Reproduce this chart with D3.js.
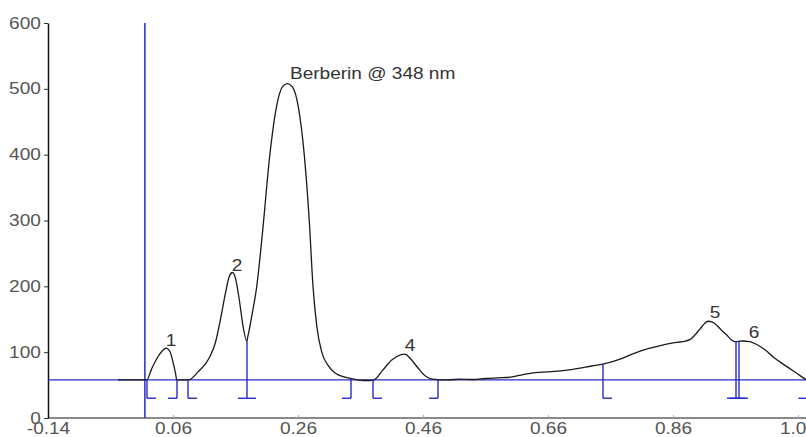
<!DOCTYPE html>
<html>
<head>
<meta charset="utf-8">
<script src="https://cdn.jsdelivr.net/npm/d3@7"></script>
<style>
  body { margin: 0; background: #fff; }
  svg { display: block; font-family: "Liberation Sans", Arial, sans-serif; }
</style>
</head>
<body>
<svg id="chart" width="806" height="437"></svg>
<script>
// Densitogram trace (Rf, AU)
const traceRf = [-0.028, 0.0, 0.018, 0.026, 0.034, 0.042, 0.049, 0.055, 0.060, 0.064, 0.066,
  0.085, 0.100, 0.119, 0.128, 0.136, 0.144, 0.150, 0.155, 0.160, 0.166, 0.172, 0.178,
  0.180, 0.187, 0.194, 0.203, 0.215, 0.225, 0.235, 0.243, 0.251, 0.261, 0.270, 0.278, 0.284,
  0.290, 0.298, 0.308, 0.320, 0.335, 0.350, 0.365, 0.375,
  0.382, 0.395, 0.410, 0.424, 0.431, 0.440, 0.452, 0.465, 0.475, 0.490,
  0.500, 0.520, 0.540, 0.560, 0.580, 0.600, 0.620, 0.640, 0.660, 0.700, 0.730, 0.748,
  0.780, 0.800, 0.823, 0.840, 0.860, 0.875, 0.887, 0.895, 0.903, 0.910, 0.916, 0.922,
  0.930, 0.938, 0.946, 0.953, 0.959, 0.970, 0.983, 0.993, 1.002, 1.012, 1.020, 1.030,
  1.042, 1.058, 1.074, 1.090];
const traceAU = [58, 58, 58, 75, 90, 101, 106, 101, 85, 68, 58,
  58, 70, 93, 115, 150, 190, 215, 221, 212, 180, 140, 117,
  125, 160, 200, 280, 400, 470, 503, 508, 503, 470, 400, 300, 200,
  140, 100, 80, 68, 62, 59, 57, 57,
  58, 72, 88, 96, 97, 90, 76, 63, 59, 58,
  58, 59, 58.5, 60, 61, 62, 66, 69, 70, 74, 79, 82,
  91, 99, 106, 110, 114, 116, 119, 126, 135, 143, 147, 146,
  141, 133, 126, 119, 116, 117, 116, 112, 107, 100, 93, 86,
  78, 68, 58, 55];

// Integration markers (peak start / end) and tick direction
const markerRf = [0.0184, 0.0664, 0.084, 0.1784, 0.3448, 0.380, 0.484, 0.748, 0.9608, 0.9656, 1.075];
const markerSide = ['r', 'l', 'r', 'b', 'l', 'r', 'l', 'r', 'b', 'b', 'b'];

// Peak labels
const labelText = ['1', '2', 'Berberin @ 348 nm', '4', '5', '6'];
const labelRf = [0.0568, 0.1624, 0.2472, 0.4392, 0.9272, 0.9896];
const labelAU = [109, 223, 515, 102, 152, 121.5];

const xTicks = [-0.14, 0.06, 0.26, 0.46, 0.66, 0.86, 1.06];
const yTicks = [0, 100, 200, 300, 400, 500, 600];
const baselineAU = 58;
const frontRf = 0.015;
const markerFootAU = 30;

const svg = d3.select('#chart');
const blue = '#2a2ac8';
const stretch = 'scale(1.19,1)';

const x = d3.scaleLinear().domain([-0.14, 1.06]).range([48, 798]);
const y = d3.scaleLinear().domain([0, 600]).range([418, 23]);

const trace = traceRf.map((r, i) => ({ rf: r, au: traceAU[i] }));

function valueAt(rf) {
  const i = d3.bisector((d) => d.rf).left(trace, rf);
  if (i <= 0) return trace[0].au;
  if (i >= trace.length) return trace[trace.length - 1].au;
  const a = trace[i - 1], b = trace[i];
  return a.au + (b.au - a.au) * (rf - a.rf) / (b.rf - a.rf);
}

// Axes
const xAxis = svg.append('g')
  .attr('transform', `translate(0,${y(0)})`)
  .call(d3.axisBottom(x).tickValues(xTicks).tickFormat((d) => d.toFixed(2)).tickSizeInner(-3).tickSizeOuter(0).tickPadding(5));
xAxis.select('.domain').attr('stroke', '#8a8a8a').attr('stroke-width', 2).attr('d', `M${x.range()[0]},0H806`);
xAxis.selectAll('.tick line').attr('stroke', '#aaa');
xAxis.selectAll('.tick text')
  .attr('fill', '#555').attr('font-size', 16)
  .attr('transform', stretch);

const yAxis = svg.append('g')
  .attr('transform', `translate(${x(-0.14)},0)`)
  .call(d3.axisLeft(y).tickValues(yTicks).tickSizeInner(4).tickSizeOuter(0).tickPadding(2));
yAxis.select('.domain').attr('stroke', '#111').attr('stroke-width', 1.5);
yAxis.selectAll('.tick line').attr('stroke', '#333');
yAxis.selectAll('.tick text')
  .attr('fill', '#555').attr('font-size', 16)
  .attr('transform', stretch);

// Baseline and solvent front
svg.append('line')
  .attr('x1', x(-0.14)).attr('x2', 806)
  .attr('y1', y(baselineAU)).attr('y2', y(baselineAU))
  .attr('stroke', blue).attr('stroke-width', 1.3);
svg.append('line')
  .attr('x1', x(frontRf)).attr('x2', x(frontRf))
  .attr('y1', y(0)).attr('y2', y(600))
  .attr('stroke', blue).attr('stroke-width', 1.5);

// Trace
const line = d3.line()
  .x((d) => x(d.rf))
  .y((d) => y(d.au))
  .curve(d3.curveMonotoneX);
svg.append('path')
  .datum(trace)
  .attr('d', line)
  .attr('fill', 'none')
  .attr('stroke', '#1a1a1a')
  .attr('stroke-width', 1.3);

// Integration markers
const markers = svg.append('g').attr('stroke', blue).attr('stroke-width', 1.4).attr('fill', 'none');
markerRf.forEach((rf, i) => {
  const px = x(rf);
  const top = y(Math.max(valueAt(rf), baselineAU));
  const foot = y(markerFootAU);
  markers.append('line').attr('x1', px).attr('x2', px).attr('y1', top).attr('y2', foot);
  const side = markerSide[i];
  const x1 = side === 'r' ? px : px - 9;
  const x2 = side === 'l' ? px : px + 9;
  markers.append('line').attr('x1', x1).attr('x2', x2).attr('y1', foot).attr('y2', foot);
});

// Peak labels
labelText.forEach((t, i) => {
  svg.append('text')
    .attr('transform', `translate(${x(labelRf[i])},${y(labelAU[i])}) ${stretch}`)
    .attr('text-anchor', i === 2 ? 'start' : 'middle')
    .attr('font-size', 16)
    .attr('fill', '#333')
    .text(t);
});
</script>
</body>
</html>
